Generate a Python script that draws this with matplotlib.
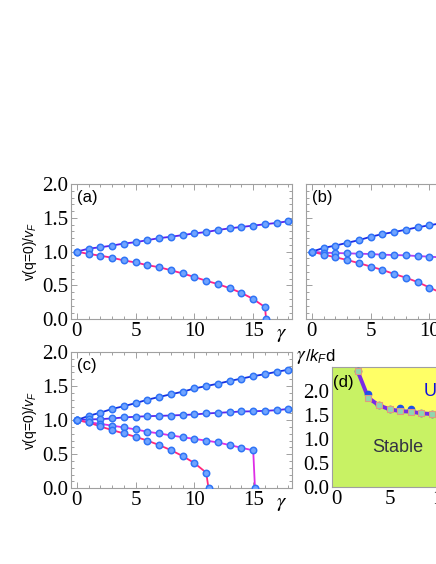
import matplotlib
matplotlib.use("Agg")
import matplotlib.pyplot as plt
from matplotlib.ticker import MultipleLocator, FormatStrFormatter

# tick labels are Times-like, annotations are Arial-like
plt.rcParams["font.family"] = "Liberation Serif"
plt.rcParams["mathtext.fontset"] = "custom"
plt.rcParams["mathtext.rm"] = "Liberation Sans"
plt.rcParams["mathtext.it"] = "Liberation Sans:italic"
SANS = "Liberation Sans"

# ---- data ----
gamma = list(range(19))

# (a)
a_upper = [1.0, 1.045, 1.065, 1.09, 1.12, 1.14, 1.17, 1.2, 1.22, 1.245, 1.27,
           1.29, 1.32, 1.345, 1.365, 1.385, 1.405, 1.425, 1.45]
a_lower_g = list(range(17)) + [16.1]
a_lower = [1.0, 0.966, 0.94, 0.91, 0.87, 0.84, 0.80, 0.77, 0.725, 0.678, 0.625,
           0.57, 0.52, 0.46, 0.39, 0.30, 0.18, 0.0]

# (b), right part is cut off by the figure edge
b_g = list(range(12))
b_upper = [1.0, 1.055, 1.09, 1.13, 1.17, 1.22, 1.26, 1.29, 1.325, 1.36, 1.39, 1.42]
b_middle = [1.0, 0.985, 0.98, 0.975, 0.97, 0.965, 0.955, 0.95, 0.945, 0.935, 0.926, 0.915]
b_lower = [1.0, 0.956, 0.917, 0.877, 0.83, 0.78, 0.73, 0.67, 0.615, 0.55, 0.47, 0.39]

# (c)
c_1 = [1.0, 1.063, 1.11, 1.165, 1.205, 1.25, 1.30, 1.34, 1.38, 1.417, 1.465,
       1.50, 1.535, 1.575, 1.61, 1.645, 1.675, 1.71, 1.74]
c_2 = [1.0, 1.01, 1.015, 1.025, 1.04, 1.05, 1.058, 1.063, 1.068, 1.076, 1.083,
       1.098, 1.107, 1.117, 1.127, 1.13, 1.137, 1.146, 1.165]
c_3_g = list(range(16)) + [15.15]
c_3 = [1.0, 0.97, 0.945, 0.92, 0.893, 0.864, 0.83, 0.805, 0.776, 0.75, 0.725,
       0.70, 0.673, 0.634, 0.595, 0.556, 0.0]
c_4_g = list(range(12)) + [11.2]
c_4 = [1.0, 0.966, 0.907, 0.854, 0.805, 0.755, 0.70, 0.634, 0.56, 0.473, 0.37, 0.23, 0.0]

# (d) phase boundary
d_x = [2, 3, 4, 5, 6, 7, 8, 9, 10, 11]
d_blue = [2.42, 1.93, 1.71, 1.625, 1.64, 1.63, 1.535, 1.52, 1.51, 1.50]
d_green = [2.42, 1.86, 1.70, 1.62, 1.58, 1.57, 1.535, 1.52, 1.51, 1.50]

W, H = 436, 564
fig = plt.figure(figsize=(W / 100, H / 100), dpi=100)


def px_axes(left, top, right, bottom):
    return fig.add_axes([left / W, 1 - bottom / H, (right - left) / W, (bottom - top) / H])


def frame(ax, xmajor, xminor, ymajor, yminor):
    for s in ax.spines.values():
        s.set_color("#a0a0a0")
        s.set_linewidth(0.8)
    ax.xaxis.set_major_locator(MultipleLocator(xmajor))
    ax.xaxis.set_minor_locator(MultipleLocator(xminor))
    ax.yaxis.set_major_locator(MultipleLocator(ymajor))
    ax.yaxis.set_minor_locator(MultipleLocator(yminor))
    ax.yaxis.set_major_formatter(FormatStrFormatter("%.1f"))
    ax.tick_params(which="both", direction="in", top=True, right=True,
                   color="#a0a0a0", width=0.7, pad=2, labelsize=15)
    ax.tick_params(which="major", length=4)
    ax.tick_params(which="minor", length=2)


mk = dict(marker="o", ms=4.6, mfc="#70a4ff", mec="#2f74f6", mew=1.1)


def curve(ax, x, y, color):
    ax.plot(x, y, color=color, lw=1.3, zorder=2)
    ax.plot(x, y, ls="none", zorder=3, **mk)


def speed_panel(ax, label):
    ax.set_xlim(-0.5, 18.3)
    ax.set_ylim(0, 2.0)
    frame(ax, 5, 1, 0.5, 0.1)
    ax.text(0.025, 0.955, label, transform=ax.transAxes, fontsize=12, family=SANS,
            va="top", ha="left")


def gamma_label(ax):
    ax.text(0.955, -0.04, r"$\gamma$", transform=ax.transAxes, ha="center", va="top",
            fontsize=15, math_fontfamily="stix")


# (a)
ax_a = px_axes(71, 184, 292, 319.3)
speed_panel(ax_a, "(a)")
curve(ax_a, gamma, a_upper, "#5a22ee")
curve(ax_a, a_lower_g, a_lower, "#ff2288")
ax_a.set_ylabel("v(q=0)/$v_F$", fontsize=10, family=SANS, labelpad=2)
gamma_label(ax_a)

# (b)
ax_b = px_axes(306, 184, 527, 319.3)
speed_panel(ax_b, "(b)")
ax_b.tick_params(labelleft=False)
curve(ax_b, b_g, b_upper, "#1c2ae6")
curve(ax_b, b_g, b_middle, "#b040f2")
curve(ax_b, b_g, b_lower, "#ff2a82")

# (c)
ax_c = px_axes(71, 352, 292, 488.3)
speed_panel(ax_c, "(c)")
curve(ax_c, gamma, c_1, "#1530e0")
curve(ax_c, gamma, c_2, "#5a28ee")
curve(ax_c, c_3_g, c_3, "#de2ee6")
curve(ax_c, c_4_g, c_4, "#ff2a7c")
ax_c.set_ylabel("v(q=0)/$v_F$", fontsize=10, family=SANS, labelpad=2)
gamma_label(ax_c)

# (d)
ax_d = px_axes(332, 367, 560, 487)
ax_d.set_xlim(-0.4, 21)
ax_d.set_ylim(0, 2.5)
frame(ax_d, 5, 1, 0.5, 0.1)
ax_d.set_yticks([0, 0.5, 1.0, 1.5, 2.0])
ax_d.tick_params(which="both", length=0)
ax_d.set_facecolor("#c8f264")
ax_d.fill_between(d_x, d_green, 2.5, color="#ffff66", lw=0, zorder=1)
ax_d.plot(d_x, d_green, color="#7a2ae6", lw=2.8, zorder=2)
ax_d.plot(d_x, d_blue, ls="none", marker="o", ms=4.5, mfc="#2050e8", mec="#2050e8", zorder=3)
ax_d.plot(d_x, d_green, ls="none", marker="s", ms=4.2, mfc="#8fd6b0", mec="#e09a80",
          mew=0.8, zorder=4)
ax_d.text(0.005, 0.93, "(d)", transform=ax_d.transAxes, fontsize=12, family=SANS,
          va="top", ha="left")
ax_d.text(3.4, 0.83, "Stable", fontsize=13, family=SANS, color="#333344",
          va="center", ha="left")
ax_d.text(8.2, 2.0, "Unstable", fontsize=13, family=SANS, color="#1010dd",
          va="center", ha="left")
fig.text(296 / W, 1 - 357 / H, r"$\gamma$", fontsize=14, math_fontfamily="stix",
         va="center", ha="left")
fig.text(305 / W, 1 - 357 / H, "/$k_F$d", fontsize=12, family=SANS,
         va="center", ha="left")

fig.savefig("out.png", dpi=100)
